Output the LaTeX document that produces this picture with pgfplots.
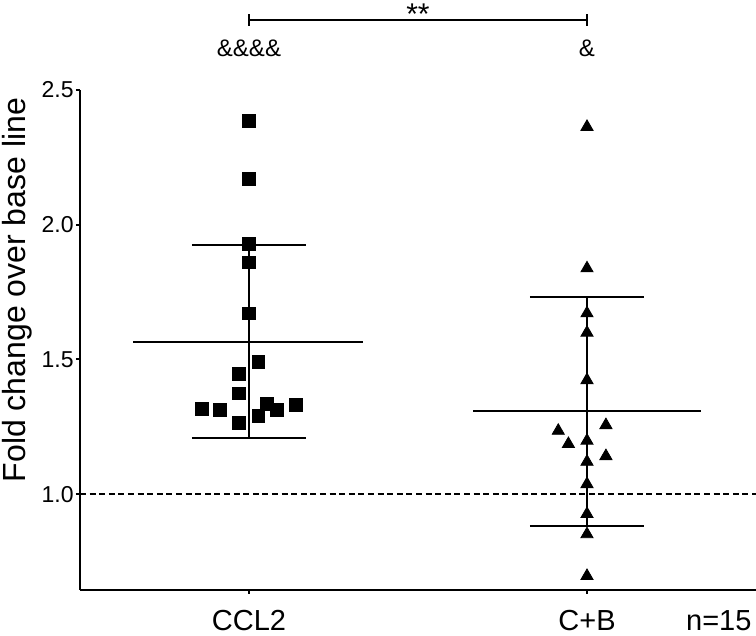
\documentclass[border=0pt]{standalone}
\usepackage{fontspec}
\setmainfont{Liberation Sans}
\usepackage{pgfplots}
\pgfplotsset{compat=1.18}
\begin{document}
\begin{tikzpicture}
\begin{axis}[
  scale only axis, width=338pt, height=250pt,
  xmin=0.5, xmax=2.5, ymin=0.644, ymax=2.5,
  axis lines*=left,
  axis line style={line width=1pt},
  xtick={1,2}, xticklabels={CCL2,C+B},
  ytick={1,1.5,2,2.5},
  /pgf/number format/assume math mode=true,
  yticklabel style={/pgf/number format/fixed,/pgf/number format/precision=1,/pgf/number format/fixed zerofill,font=\fontsize{11.5}{13}\selectfont, inner sep=1pt},
  xticklabel style={font=\fontsize{14.5}{16}\selectfont, anchor=base, yshift=-18.3pt},
  tick align=outside, major tick length=2pt,
  tick style={line width=1pt, black},
  ylabel={Fold change over base line},
  ylabel style={font=\fontsize{16}{18}\selectfont, at={(ticklabel cs:0.6)}},
  clip=false,
]
\coordinate (sw) at (rel axis cs:0,0);
\coordinate (ne) at (rel axis cs:1,1);
% baseline
\addplot[black, line width=0.6pt, dash pattern=on 3pt off 1.8pt] coordinates {(0.5,1) (2.5,1)};
% CCL2 mean and SD
\addplot[black, line width=0.9pt] coordinates {(1,1.207) (1,1.924)};
\addplot[black, line width=0.9pt] coordinates {(0.657,1.566) (1.337,1.566)};
\addplot[black, line width=0.9pt] coordinates {(0.831,1.924) (1.169,1.924)};
\addplot[black, line width=0.9pt] coordinates {(0.831,1.207) (1.169,1.207)};
% C+B mean and SD
\addplot[black, line width=0.9pt] coordinates {(2,0.882) (2,1.732)};
\addplot[black, line width=0.9pt] coordinates {(1.663,1.308) (2.337,1.308)};
\addplot[black, line width=0.9pt] coordinates {(1.831,1.732) (2.169,1.732)};
\addplot[black, line width=0.9pt] coordinates {(1.831,0.882) (2.169,0.882)};
% CCL2 points
\addplot[only marks, mark=square*, mark size=3.2pt, black] coordinates {
(1,2.386) (1,2.169) (1,1.928) (1,1.860) (1,1.671)
(1.028,1.491) (0.971,1.446) (0.971,1.374)
(0.860,1.315) (0.914,1.312) (1.054,1.334) (1.082,1.312) (1.139,1.330)
(1.028,1.291) (0.971,1.265)};
% C+B points
\addplot[only marks, mark=triangle*, mark size=3.5pt, black] coordinates {
(2,2.363) (2,1.838) (2,1.671) (2,1.599) (2,1.423)
(1.915,1.235) (2.056,1.256) (1.945,1.186) (2,1.198) (2.056,1.141)
(2,1.120) (2,1.037) (2,0.926) (2,0.851) (2,0.696)};
% significance annotations
\draw[line width=1pt] (axis cs:1,2.760) -- (axis cs:2,2.760);
\draw[line width=1pt] (axis cs:1,2.738) -- (axis cs:1,2.782);
\draw[line width=1pt] (axis cs:2,2.738) -- (axis cs:2,2.782);
\node[anchor=base, font=\fontsize{15}{17}\selectfont, inner sep=0pt] at (axis cs:1.5,2.742) {**};
\node[anchor=base, font=\fontsize{12}{14}\selectfont, inner sep=0pt] at (axis cs:1,2.623) {\&\&\&\&};
\node[anchor=base, font=\fontsize{12}{14}\selectfont, inner sep=0pt] at (axis cs:2,2.623) {\&};
\node[anchor=base, font=\fontsize{14.5}{16}\selectfont, inner sep=0pt] at (axis cs:2.39,0.644) [yshift=-20.3pt] {n=15};
\end{axis}
\pgfresetboundingbox
\path ([shift={(-40pt,-23pt)}]sw) rectangle ([shift={(0pt,45pt)}]ne);
\end{tikzpicture}
\end{document}
